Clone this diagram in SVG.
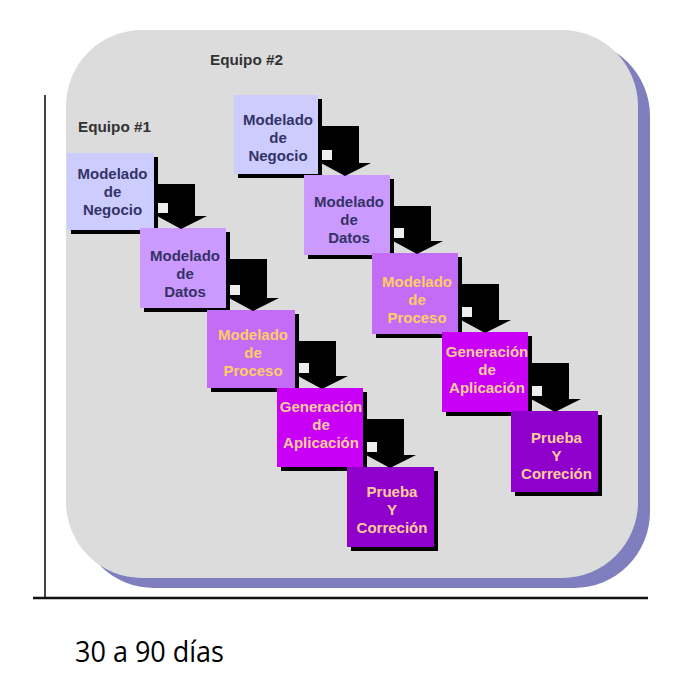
<svg xmlns="http://www.w3.org/2000/svg" width="696" height="679" viewBox="0 0 696 679">
<style>
.lbl{font-family:"Liberation Sans",Arial,sans-serif;font-weight:bold;font-size:15px;text-anchor:middle}
.team{font-family:"Liberation Sans",Arial,sans-serif;font-weight:bold;font-size:15px;fill:#333333}
.sh{fill:#000000}
.c1{fill:#ccccff}.c2{fill:#cc99ff}.c3{fill:#c36cf5}.c4{fill:#c800f8}.c5{fill:#9000cc}
.t1{fill:#333366}.t3{fill:#ffcc66}.t4{fill:#ffcc99}
.arr{fill:#000000}
.sq{fill:#eeeeee}
</style>
<rect width="696" height="679" fill="#ffffff"/>
<g id="panel">
<rect x="78" y="40" width="572" height="548" rx="76" fill="#7f7fc0"/>
<rect x="66" y="30" width="572" height="548" rx="76" fill="#dcdcdc"/>
</g>
<g id="axes">
<line x1="45" y1="95" x2="45" y2="599" stroke="#444444" stroke-width="2"/>
<line x1="33" y1="598" x2="648" y2="598" stroke="#111111" stroke-width="2.5"/>
</g>
<text id="equipo1" class="team" x="78" y="132" textLength="73" lengthAdjust="spacingAndGlyphs">Equipo #1</text>
<text id="equipo2" class="team" x="210" y="65" textLength="73" lengthAdjust="spacingAndGlyphs">Equipo #2</text>

<g id="t1b1"><rect class="sh" x="71" y="157" width="87" height="77"/><rect class="c1" x="67" y="153" width="87" height="77"/>
<text class="lbl t1" x="112.5" y="179"><tspan x="112.5">Modelado</tspan><tspan x="112.5" dy="18">de</tspan><tspan x="112.5" dy="18">Negocio</tspan></text></g>
<g id="t1b2"><rect class="sh" x="144" y="232" width="86" height="80"/><rect class="c2" x="140" y="228" width="86" height="80"/>
<text class="lbl t1" x="185" y="261"><tspan x="185">Modelado</tspan><tspan x="185" dy="18">de</tspan><tspan x="185" dy="18">Datos</tspan></text></g>
<g id="t1b3"><rect class="sh" x="211" y="314" width="88" height="78"/><rect class="c3" x="207" y="310" width="88" height="78"/>
<text class="lbl t3" x="253" y="340"><tspan x="253">Modelado</tspan><tspan x="253" dy="18">de</tspan><tspan x="253" dy="18">Proceso</tspan></text></g>
<g id="t1b4"><rect class="sh" x="281" y="392" width="86" height="79"/><rect class="c4" x="277" y="388" width="86" height="79"/>
<text class="lbl t4" x="321" y="412"><tspan x="321">Generación</tspan><tspan x="321" dy="18">de</tspan><tspan x="321" dy="18">Aplicación</tspan></text></g>
<g id="t1b5"><rect class="sh" x="351" y="471" width="87" height="80"/><rect class="c5" x="347" y="467" width="87" height="80"/>
<text class="lbl t4" x="392" y="497"><tspan x="392">Prueba</tspan><tspan x="392" dy="18">Y</tspan><tspan x="392" dy="18">Correción</tspan></text></g>

<g id="t2b1"><rect class="sh" x="238" y="99" width="84" height="79"/><rect class="c1" x="234" y="95" width="84" height="79"/>
<text class="lbl t1" x="278" y="125"><tspan x="278">Modelado</tspan><tspan x="278" dy="18">de</tspan><tspan x="278" dy="18">Negocio</tspan></text></g>
<g id="t2b2"><rect class="sh" x="308" y="179" width="86" height="80"/><rect class="c2" x="304" y="175" width="86" height="80"/>
<text class="lbl t1" x="349" y="207"><tspan x="349">Modelado</tspan><tspan x="349" dy="18">de</tspan><tspan x="349" dy="18">Datos</tspan></text></g>
<g id="t2b3"><rect class="sh" x="376" y="257" width="86" height="81"/><rect class="c3" x="372" y="253" width="86" height="81"/>
<text class="lbl t3" x="417" y="287"><tspan x="417">Modelado</tspan><tspan x="417" dy="18">de</tspan><tspan x="417" dy="18">Proceso</tspan></text></g>
<g id="t2b4"><rect class="sh" x="446" y="336" width="86" height="80"/><rect class="c4" x="442" y="332" width="86" height="80"/>
<text class="lbl t4" x="487" y="357"><tspan x="487">Generación</tspan><tspan x="487" dy="18">de</tspan><tspan x="487" dy="18">Aplicación</tspan></text></g>
<g id="t2b5"><rect class="sh" x="515" y="415" width="87" height="81"/><rect class="c5" x="511" y="411" width="87" height="81"/>
<text class="lbl t4" x="556.5" y="443"><tspan x="556.5">Prueba</tspan><tspan x="556.5" dy="18">Y</tspan><tspan x="556.5" dy="18">Correción</tspan></text></g>

<g id="connectors">
<path class="arr" d="M157,184 H195 V216 H207 L181,229 L157,216 Z"/><rect class="sq" x="158" y="203" width="10" height="10"/>
<path class="arr" d="M229,259 H267 V298 H279 L253,311 L229,298 Z"/><rect class="sq" x="230" y="285" width="10" height="10"/>
<path class="arr" d="M298,341 H336 V376 H348 L322,389 L298,376 Z"/><rect class="sq" x="299" y="363" width="10" height="10"/>
<path class="arr" d="M366,419 H404 V455 H416 L390,468 L366,455 Z"/><rect class="sq" x="367" y="442" width="10" height="10"/>
<path class="arr" d="M321,126 H359 V163 H371 L345,176 L321,163 Z"/><rect class="sq" x="322" y="150" width="10" height="10"/>
<path class="arr" d="M393,206 H431 V241 H443 L417,254 L393,241 Z"/><rect class="sq" x="394" y="228" width="10" height="10"/>
<path class="arr" d="M461,284 H499 V320 H511 L485,333 L461,320 Z"/><rect class="sq" x="462" y="307" width="10" height="10"/>
<path class="arr" d="M531,363 H569 V399 H581 L555,412 L531,399 Z"/><rect class="sq" x="532" y="386" width="10" height="10"/>
</g>
<text id="duracion" x="75" y="662" font-family="'Open Sans','Noto Sans',sans-serif" font-size="29.5" fill="#000000" textLength="149" lengthAdjust="spacingAndGlyphs">30 a 90 días</text>
</svg>
